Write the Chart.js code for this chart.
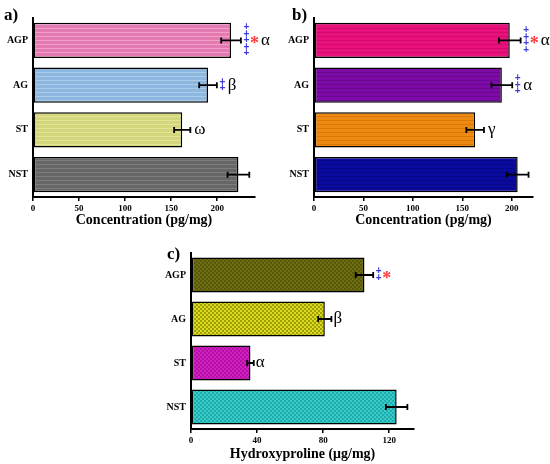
<!DOCTYPE html>
<html>
<head>
<meta charset="utf-8">
<script src="https://cdn.jsdelivr.net/npm/chart.js@4.4.1/dist/chart.umd.min.js"></script>
<style>
body { margin: 0; background: #fff; width: 550px; height: 464px; position: relative; overflow: hidden; }
.panel { position: absolute; }
</style>
</head>
<body>
<div class="panel" style="left:0;top:0"><canvas id="chartA" width="275" height="230"></canvas></div>
<div class="panel" style="left:275px;top:0"><canvas id="chartB" width="275" height="230"></canvas></div>
<div class="panel" style="left:130px;top:230px"><canvas id="chartC" width="290" height="234"></canvas></div>
<script>
const groups = ["AGP", "AG", "ST", "NST"];

// a) concentration
const concA = [215, 190, 162, 223];
const errA = [10.7, 9.6, 8.8, 11.8];
const crossA = [5, 2, 0, 0];
const starA = [true, false, false, false];
const greekA = ["α", "β", "ω", ""];

// b) concentration
const concB = [198, 190, 163, 206];
const errB = [11, 10.5, 8.9, 11];
const crossB = [4, 3, 0, 0];
const starB = [true, false, false, false];
const greekB = ["α", "α", "γ", ""];

// c) hydroxyproline
const hydC = [105, 81, 36, 124.5];
const errC = [5.3, 4, 2, 6.5];
const crossC = [2, 0, 0, 0];
const starC = [true, false, false, false];
const greekC = ["", "β", "α", ""];

const ticksAB = [0, 50, 100, 150, 200];
const ticksC = [0, 40, 80, 120];

const SERIF = "'Liberation Serif', 'Times New Roman', serif";

function stripes(base, line) {
    const c = document.createElement("canvas");
    c.width = 4; c.height = 4;
    const g = c.getContext("2d");
    g.fillStyle = base;
    g.fillRect(0, 0, 4, 4);
    g.fillStyle = line;
    g.fillRect(0, 0, 4, 1);
    return g.createPattern(c, "repeat");
}

function checker(base, dark) {
    const c = document.createElement("canvas");
    c.width = 4; c.height = 4;
    const g = c.getContext("2d");
    g.fillStyle = base;
    g.fillRect(0, 0, 4, 4);
    g.fillStyle = dark;
    g.fillRect(0, 0, 2, 2);
    g.fillRect(2, 2, 2, 2);
    return g.createPattern(c, "repeat");
}

const marks = {
    id: "marks",
    afterDatasetsDraw(chart, args, opts) {
        const ctx = chart.ctx;
        const xs = chart.scales.x, ys = chart.scales.y;
        const vals = chart.data.datasets[0].data;
        ctx.save();
        vals.forEach((v, i) => {
            const e = opts.err[i];
            const x0 = xs.getPixelForValue(v - e);
            const x1 = xs.getPixelForValue(v + e);
            const y = ys.getPixelForValue(i);
            ctx.strokeStyle = "#000";
            ctx.lineWidth = 1.8;
            ctx.beginPath();
            ctx.moveTo(x0, y); ctx.lineTo(x1, y);
            ctx.moveTo(x0, y - 3); ctx.lineTo(x0, y + 3);
            ctx.moveTo(x1, y - 3); ctx.lineTo(x1, y + 3);
            ctx.stroke();

            let cur = x1 + 2;
            const n = opts.cross[i];
            if (n > 0) {
                ctx.fillStyle = "#3c3cdc";
                ctx.font = "bold 10px 'Liberation Sans', Arial, sans-serif";
                ctx.textAlign = "center";
                ctx.textBaseline = "middle";
                for (let k = 0; k < n; k++) {
                    ctx.fillText("+", cur + 3.5, y + (k - (n - 1) / 2) * 6.6);
                }
                cur += 7;
            }
            if (opts.star[i]) {
                ctx.fillStyle = "#ff3a3a";
                ctx.font = "bold 18px " + SERIF;
                ctx.textAlign = "center";
                ctx.textBaseline = "alphabetic";
                ctx.fillText("*", cur + 4.5, y + 9);
                cur += 9;
            }
            if (opts.greek[i]) {
                ctx.fillStyle = "#000";
                ctx.font = "17px " + SERIF;
                ctx.textAlign = "left";
                ctx.textBaseline = "middle";
                ctx.fillText(opts.greek[i], cur + opts.gap, y);
            }
        });
        ctx.fillStyle = "#000";
        ctx.font = "bold 17px " + SERIF;
        ctx.textAlign = "left";
        ctx.textBaseline = "alphabetic";
        ctx.fillText(opts.label, opts.labelX, opts.labelY);
        ctx.restore();
    }
};

function renderPanel(id, values, fills, cfg) {
    const tickFont = { family: SERIF, weight: "bold", size: 9 };
    const tickSet = cfg.ticks;
    return new Chart(document.getElementById(id), {
        type: "bar",
        data: {
            labels: groups,
            datasets: [{
                data: values,
                backgroundColor: fills,
                borderColor: "#000",
                borderWidth: 1.5,
                borderSkipped: false,
                barPercentage: 0.79,
                categoryPercentage: 1
            }]
        },
        options: {
            indexAxis: "y",
            responsive: false,
            animation: false,
            layout: { padding: { left: 0, top: cfg.top, right: cfg.right, bottom: 0 } },
            scales: {
                x: {
                    min: 0,
                    max: cfg.max,
                    afterBuildTicks: s => { s.ticks = tickSet.map(t => ({ value: t })); },
                    ticks: { color: "#000", font: tickFont, padding: 2, maxRotation: 0 },
                    grid: { display: true, drawOnChartArea: false, drawTicks: true, tickLength: 4, color: "#000", lineWidth: 1.5 },
                    border: { display: true, color: "#000", width: 2 },
                    title: {
                        display: true,
                        text: cfg.title,
                        color: "#000",
                        font: { family: SERIF, weight: "bold", size: 14 },
                        padding: { top: 0, bottom: cfg.titlePad }
                    },
                    afterFit: s => { s.height = cfg.xh; }
                },
                y: {
                    ticks: { color: "#000", font: { family: SERIF, weight: "bold", size: 10 }, padding: 5 },
                    grid: { display: false, drawTicks: false },
                    border: { display: true, color: "#000", width: 2 },
                    afterFit: s => { s.width = cfg.yw; }
                }
            },
            plugins: {
                legend: { display: false },
                tooltip: { enabled: false },
                marks: cfg.marks
            }
        },
        plugins: [marks]
    });
}

renderPanel("chartA", concA, [
    stripes("#e37ab2", "#f29fca"),
    stripes("#8db7df", "#abcbea"),
    stripes("#d3d67a", "#e3e497"),
    stripes("#666666", "#7d7d7d")
], {
    max: 241, ticks: ticksAB, top: 18, right: 20, xh: 33, yw: 33, titlePad: 1,
    title: "Concentration (pg/mg)",
    marks: { err: errA, cross: crossA, star: starA, greek: greekA, gap: 2, label: "a)", labelX: 4, labelY: 20 }
});

renderPanel("chartB", concB, [
    stripes("#e8107a", "#d20a6a"),
    stripes("#7c0aa6", "#6a0890"),
    stripes("#ee8a12", "#d87a08"),
    stripes("#0a0a9c", "#07078a")
], {
    max: 221.5, ticks: ticksAB, top: 18, right: 17, xh: 33, yw: 39, titlePad: 1,
    title: "Concentration (pg/mg)",
    marks: { err: errB, cross: crossB, star: starB, greek: greekB, gap: 2, label: "b)", labelX: 17, labelY: 20 }
});

renderPanel("chartC", hydC, [
    checker("#6e6e14", "#58580a"),
    checker("#dada22", "#a0a000"),
    checker("#d41ec4", "#b012a2"),
    checker("#36cccc", "#22abab")
], {
    max: 135, ticks: ticksC, top: 23, right: 6, xh: 35, yw: 61, titlePad: 1,
    title: "Hydroxyproline (μg/mg)",
    marks: { err: errC, cross: crossC, star: starC, greek: greekC, gap: 0, label: "c)", labelX: 37, labelY: 29 }
});
</script>
</body>
</html>
